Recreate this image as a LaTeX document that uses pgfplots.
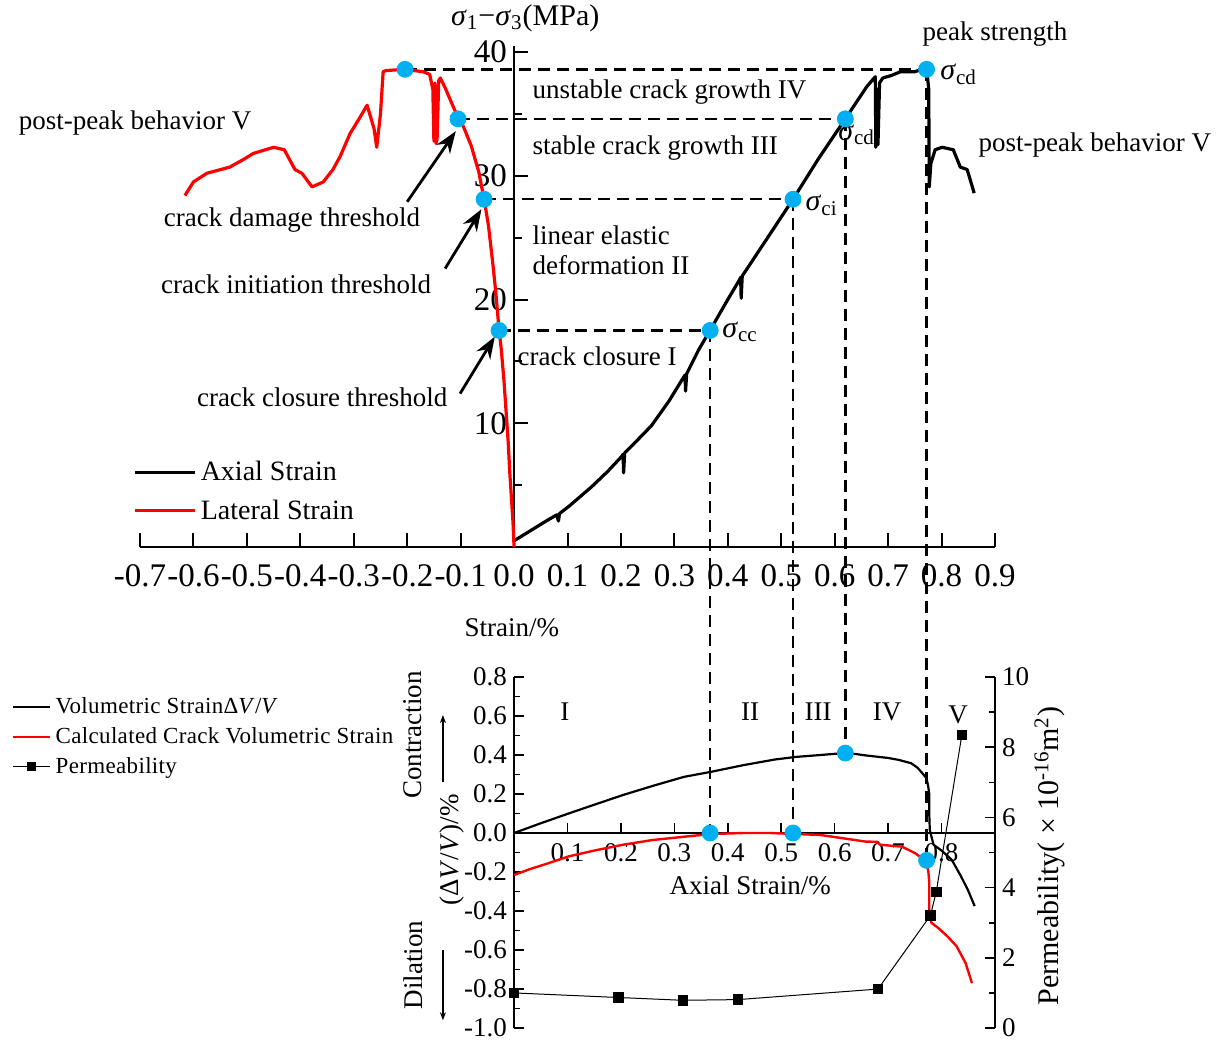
\documentclass[border=0pt]{standalone}
\usepackage{fontspec}
\setmainfont{Liberation Serif}
\usepackage{pgfplots}
\pgfplotsset{compat=1.18}
\usetikzlibrary{arrows.meta}
\definecolor{dotblue}{RGB}{0,176,240}
\newcommand{\annfont}{\fontsize{13.5}{16}\selectfont}
\newcommand{\tickA}{\fontsize{16.5}{19}\selectfont}
\newcommand{\tickB}{\fontsize{13.5}{16}\selectfont}
\newcommand{\legA}{\fontsize{14}{16}\selectfont}
\newcommand{\legB}{\fontsize{11.5}{13}\selectfont\addfontfeature{LetterSpace=1.5}}
\newcommand{\sigf}{\fontsize{15}{17}\selectfont}
\pgfplotsset{
  dashline/.style={black, line width=1.2pt, dash pattern=on 6pt off 3.5pt, forget plot},
  bdot/.style={only marks, mark=*, mark size=4pt, mark options={draw=dotblue, fill=dotblue}, forget plot},
}
\begin{document}
\begin{tikzpicture}
\path[use as bounding box] (0,0) rectangle (609pt,-520.5pt);
% ---------------- top axis ----------------
\begin{axis}[
  at={(70pt,-273.5pt)}, anchor=south west,
  scale only axis, width=427.5pt, height=250.6pt,
  xmin=-0.7, xmax=0.9, ymin=0, ymax=40.5,
  axis x line=bottom, axis y line=middle,
  axis line style={-, line width=1pt, black},
  hide obscured x ticks=false, hide obscured y ticks=false,
  clip=false,
  xtick={-0.7,-0.6,-0.5,-0.4,-0.3,-0.2,-0.1,0,0.1,0.2,0.3,0.4,0.5,0.6,0.7,0.8,0.9},
  xticklabels={-0.7,-0.6,-0.5,-0.4,-0.3,-0.2,-0.1,0.0,0.1,0.2,0.3,0.4,0.5,0.6,0.7,0.8,0.9},
  ytick={10,20,30,40}, yticklabels={10,20,30,40},
  minor ytick={5,15,25,35},
  tick align=inside,
  major tick length=7pt, minor tick length=4pt,
  tick style={black, line width=1pt},
  tick label style={font=\tickA},
  xticklabel style={yshift=-5pt},
  legend style={at={(-0.008,0.18)}, anchor=north west, draw=none, fill=none,
    font=\legA, row sep=4pt, inner sep=0pt},
  legend cell align=left,
  legend image code/.code={\draw[#1] (0pt,0pt) -- (30pt,0pt);},
]
% dashed guide lines
\addplot[dashline] coordinates {(-0.204,38.6) (0.772,38.6)};
\addplot[dashline] coordinates {(-0.105,34.6) (0.62,34.6)};
\addplot[dashline] coordinates {(-0.056,28.1) (0.522,28.1)};
\addplot[dashline] coordinates {(-0.028,17.5) (0.367,17.5)};
\addplot[dashline] coordinates {(0.367,17.5) (0.367,-23.1)};
\addplot[dashline] coordinates {(0.522,28.1) (0.522,-23.1)};
\addplot[dashline] coordinates {(0.62,34.6) (0.62,-16.6)};
\addplot[dashline] coordinates {(0.772,38.6) (0.772,-25.3)};
% axial strain
\addplot[black, line width=1.6pt, line join=round] coordinates {
(0,0.5) (0.03,1.3) (0.06,2.1) (0.08,2.6) (0.083,2.1) (0.085,2.7) (0.103,3.3) (0.146,4.9) (0.175,6.1)
(0.201,7.3) (0.204,7.5) (0.205,6.0) (0.207,7.6) (0.23,8.6) (0.257,9.8) (0.29,11.8) (0.317,13.7)
(0.32,13.9) (0.321,12.6) (0.323,14.0) (0.345,15.9) (0.368,17.6) (0.40,20.0) (0.422,21.6) (0.424,21.8)
(0.425,20.1) (0.427,21.9) (0.47,24.7) (0.522,28.1) (0.57,31.4) (0.62,34.6) (0.66,37.2) (0.676,38.0)
(0.677,32.3) (0.68,37.0) (0.681,32.5) (0.684,37.5) (0.69,37.9) (0.706,38.1) (0.723,38.4) (0.749,38.4)
(0.772,38.7) (0.776,37) (0.777,29.1) (0.780,31) (0.788,32.1) (0.801,32.3) (0.822,32.1) (0.835,30.7)
(0.848,30.5) (0.861,28.6)};
\addlegendentry{Axial Strain}
% lateral strain
\addplot[red, line width=1.6pt, line join=round] coordinates {
(0,0) (-0.002,2) (-0.005,4) (-0.008,6) (-0.011,8.5) (-0.015,11) (-0.019,13.5) (-0.024,16) (-0.028,17.5)
(-0.034,20.5) (-0.04,23) (-0.048,26) (-0.056,28.1) (-0.066,30.3) (-0.08,32.4) (-0.095,34) (-0.105,34.7)
(-0.118,36.0) (-0.13,37.2) (-0.138,37.9) (-0.141,37.7) (-0.144,33) (-0.146,32.6) (-0.148,37.5)
(-0.150,32.8) (-0.152,37.0) (-0.158,38.2) (-0.17,38.4) (-0.204,38.6) (-0.24,38.5) (-0.245,38.4)
(-0.25,35) (-0.257,32.3) (-0.262,33.8) (-0.275,35.7) (-0.29,34.6) (-0.307,33.4) (-0.325,31.6)
(-0.339,30.5) (-0.357,29.5) (-0.378,29.1) (-0.397,30.2) (-0.41,30.5) (-0.43,32.1) (-0.45,32.3)
(-0.488,31.8) (-0.507,31.3) (-0.532,30.7) (-0.575,30.2) (-0.6,29.5) (-0.616,28.4)};
\addlegendentry{Lateral Strain}
% dots
\addplot[bdot] coordinates {(-0.204,38.6) (-0.105,34.6) (-0.056,28.1) (-0.028,17.5)
  (0.367,17.5) (0.522,28.1) (0.62,34.6) (0.772,38.6)};
% arrows
\draw[-{Stealth[length=11pt,width=8pt]}, line width=1.4pt] (axis cs:-0.2,27.9) -- (axis cs:-0.109,33.6);
\draw[-{Stealth[length=11pt,width=8pt]}, line width=1.4pt] (axis cs:-0.129,22.5) -- (axis cs:-0.061,27.3);
\draw[-{Stealth[length=11pt,width=8pt]}, line width=1.4pt] (axis cs:-0.101,12.4) -- (axis cs:-0.036,17.0);
% text
\node[font=\annfont] at (axis cs:-0.709,34.3) {post-peak behavior V};
\node[font=\annfont] at (axis cs:-0.4155,26.4) {crack damage threshold};
\node[font=\annfont] at (axis cs:-0.408,21.25) {crack initiation threshold};
\node[font=\annfont] at (axis cs:-0.359,12.1) {crack closure threshold};
\node[font=\annfont] at (axis cs:0.900,41.45) {peak strength};
\node[font=\annfont] at (axis cs:1.087,32.5) {post-peak behavior V};
\node[font=\annfont, anchor=west, inner sep=0pt] at (axis cs:0.034,36.8) {unstable crack growth IV};
\node[font=\annfont, anchor=west, inner sep=0pt] at (axis cs:0.034,32.2) {stable crack growth III};
\node[font=\annfont, anchor=west, inner sep=0pt] at (axis cs:0.034,25.2) {linear elastic};
\node[font=\annfont, anchor=west, inner sep=0pt] at (axis cs:0.034,22.8) {deformation II};
\node[font=\annfont, anchor=west, inner sep=0pt] at (axis cs:0.006,15.4) {crack closure I};
\node[font=\sigf, anchor=west, inner sep=0pt] at (axis cs:0.797,38.2) {\textit{σ}\textsubscript{cd}};
\node[font=\sigf, anchor=west, inner sep=0pt] at (axis cs:0.606,33.3) {\textit{σ}\textsubscript{cd}};
\node[font=\sigf, anchor=west, inner sep=0pt] at (axis cs:0.545,27.6) {\textit{σ}\textsubscript{ci}};
\node[font=\sigf, anchor=west, inner sep=0pt] at (axis cs:0.389,17.4) {\textit{σ}\textsubscript{cc}};
\node[font=\sigf] at (axis cs:0.021,42.75) {\textit{σ}\textsubscript{1}−\textit{σ}\textsubscript{3}(MPa)};
\node[font=\annfont] at (axis cs:-0.004,-6.55) {Strain/\%};
\end{axis}
% ---------------- bottom left axis ----------------
\begin{axis}[
  at={(257pt,-514pt)}, anchor=south west,
  scale only axis, width=240.5pt, height=175.5pt,
  xmin=0, xmax=0.9, ymin=-1, ymax=0.8,
  axis x line=middle, axis y line=left,
  axis line style={-, line width=0.8pt, black},
  hide obscured x ticks=false, hide obscured y ticks=false,
  clip=false,
  xtick={0.1,0.2,0.3,0.4,0.5,0.6,0.7,0.8},
  xticklabels={0.1,0.2,0.3,0.4,0.5,0.6,0.7,0.8},
  ytick={-1,-0.8,-0.6,-0.4,-0.2,0,0.2,0.4,0.6,0.8},
  yticklabels={-1.0,-0.8,-0.6,-0.4,-0.2,0.0,0.2,0.4,0.6,0.8},
  minor ytick={-0.9,-0.7,-0.5,-0.3,-0.1,0.1,0.3,0.5,0.7},
  tick align=inside,
  major tick length=5pt, minor tick length=3pt,
  tick style={black, line width=0.8pt},
  tick label style={font=\tickB},
  xticklabel style={yshift=-1.5pt},
  legend style={at={(-1.044,0.954)}, anchor=north west, draw=none, fill=none,
    font=\legB, row sep=1.5pt, inner sep=0pt},
  legend cell align=left,
  legend image code/.code={\draw[mark repeat=2, mark phase=2, #1] plot coordinates {(0pt,0pt) (9.25pt,0pt) (18.5pt,0pt)};},
]
\addplot[black, line width=1.1pt, line join=round] coordinates {
(0,0) (0.05,0.05) (0.102,0.10) (0.15,0.145) (0.204,0.195) (0.26,0.242) (0.318,0.288) (0.369,0.314)
(0.429,0.348) (0.488,0.377) (0.526,0.39) (0.573,0.40) (0.617,0.41) (0.64,0.405) (0.658,0.398)
(0.70,0.385) (0.72,0.375) (0.743,0.358) (0.755,0.335) (0.764,0.307) (0.772,0.28) (0.775,0.24)
(0.777,0.2) (0.777,0.1) (0.778,0.015) (0.785,-0.06) (0.80,-0.09) (0.819,-0.137) (0.836,-0.22)
(0.849,-0.29) (0.862,-0.375)};
\addlegendentry{Volumetric StrainΔ\textit{V}/\textit{V}}
\addplot[red, line width=1.2pt, line join=round] coordinates {
(0,-0.215) (0.03,-0.185) (0.064,-0.155) (0.102,-0.12) (0.15,-0.09) (0.204,-0.06) (0.259,-0.036)
(0.318,-0.019) (0.369,-0.005) (0.429,0.0) (0.48,0.0) (0.526,-0.005) (0.573,-0.01) (0.616,-0.027)
(0.658,-0.044) (0.68,-0.045) (0.685,-0.06) (0.726,-0.07) (0.751,-0.104) (0.768,-0.14) (0.775,-0.19)
(0.777,-0.25) (0.777,-0.395) (0.781,-0.46) (0.795,-0.49) (0.811,-0.53) (0.828,-0.58) (0.845,-0.667)
(0.857,-0.77)};
\addlegendentry{Calculated Crack Volumetric Strain}
\addlegendimage{black, line width=0.5pt, mark=square*, mark size=2pt}
\addlegendentry{Permeability}
\addplot[bdot] coordinates {(0.367,0) (0.522,0) (0.62,0.41) (0.772,-0.14)};
% labels
\node[font=\tickB] at (axis cs:0.095,0.62) {I};
\node[font=\tickB] at (axis cs:0.442,0.62) {II};
\node[font=\tickB] at (axis cs:0.569,0.62) {III};
\node[font=\tickB] at (axis cs:0.698,0.62) {IV};
\node[font=\tickB] at (axis cs:0.831,0.605) {V};
\node[font=\annfont] at (axis cs:0.442,-0.267) {Axial Strain/\%};
\node[font=\annfont, rotate=90] at (axis cs:-0.116,-0.087) {(Δ\textit{V}/\textit{V})/\%};
\node[font=\annfont, rotate=90] at (axis cs:-0.189,0.503) {Contraction};
\node[font=\annfont, rotate=90] at (axis cs:-0.189,-0.677) {Dilation};
\draw[-{Stealth[length=4pt,width=3pt]}, line width=0.8pt] (axis cs:-0.133,0.26) -- (axis cs:-0.133,0.605);
\draw[-{Stealth[length=4pt,width=3pt]}, line width=0.8pt] (axis cs:-0.133,-0.6) -- (axis cs:-0.133,-0.96);
\end{axis}
% ---------------- bottom right axis ----------------
\begin{axis}[
  at={(257pt,-514pt)}, anchor=south west,
  scale only axis, width=240.5pt, height=175.5pt,
  xmin=0, xmax=0.9, ymin=0, ymax=10,
  axis y line=right, axis x line=none,
  axis line style={-, line width=0.8pt, black},
  clip=false,
  ytick={0,2,4,6,8,10}, yticklabels={0,2,4,6,8,10},
  minor ytick={1,3,5,7,9},
  tick align=inside,
  major tick length=5pt, minor tick length=3pt,
  tick style={black, line width=0.8pt},
  tick label style={font=\tickB},
]
\addplot[black, line width=0.5pt, mark=square*, mark size=2.4pt] coordinates {
(0.0,1.0) (0.195,0.87) (0.316,0.79) (0.419,0.81) (0.681,1.11) (0.779,3.2) (0.79,3.87) (0.838,8.35)};
\node[font=\fontsize{15}{17}\selectfont, rotate=90] at (rel axis cs:1.114,0.49) {Permeability( × 10\textsuperscript{-16}m\textsuperscript{2})};
\end{axis}
\end{tikzpicture}
\end{document}
